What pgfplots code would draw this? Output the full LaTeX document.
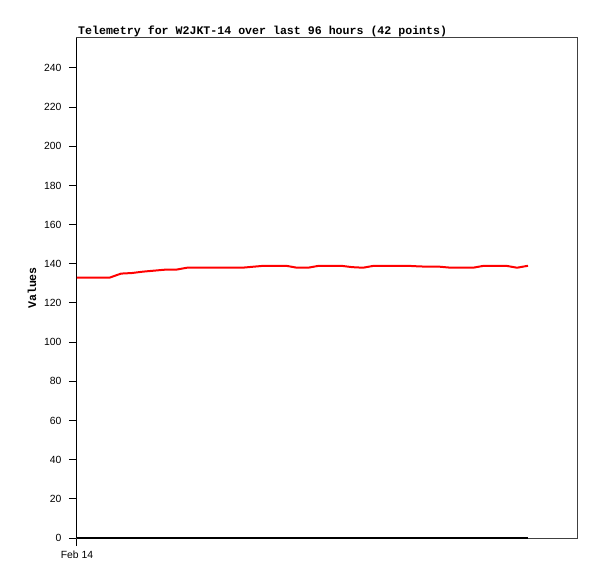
\documentclass[border=0pt]{standalone}
\usepackage{fontspec}
\setmainfont{Liberation Sans}
\newfontfamily\monofont{Liberation Mono}
\usepackage{pgfplots}
\pgfplotsset{compat=1.18}
\definecolor{boxgray}{HTML}{404040}
\begin{document}
\begin{tikzpicture}
\begin{axis}[
  scale only axis,
  width=500bp, height=500bp,
  xmin=0, xmax=45.4545,
  ymin=0, ymax=255.3,
  ytick={0,20,...,240},
  xtick={0},
  xticklabels={Feb 14},
  tick align=outside,
  tick pos=left,
  major tick length=8bp,
  tick style={black, line width=1bp},
  axis line style={boxgray, line width=1bp},
  /pgf/number format/assume math mode=true,
  ticklabel style={font=\fontsize{10.4bp}{12bp}\selectfont},
  yticklabel style={xshift=-4bp},
  xticklabel style={yshift=-1bp},
  title={\monofont\bfseries\fontsize{11.6bp}{13bp}\selectfont Telemetry for W2JKT-14 over last 96 hours (42 points)},
  title style={anchor=south west, at={(rel axis cs:0,1)}, inner sep=1bp, yshift=-6bp},
  ylabel={\monofont\bfseries\fontsize{11.6bp}{13bp}\selectfont Values},
  ylabel style={at={(axis description cs:-0.09,0.5)}, anchor=center},
  clip=false,
]
\draw[black, line width=1bp] (rel axis cs:0,0) -- (rel axis cs:0,1);
\addplot[red, line width=2bp] coordinates {
(0,133) (1,133) (2,133) (3,133) (4,135) (5,135.3) (6,136) (7,136.5)
(8,137) (9,137) (10,138) (11,138) (12,138) (13,138) (14,138) (15,138)
(16,138.5) (17,139) (18,139) (19,139) (20,138) (21,138) (22,139) (23,139)
(24,139) (25,138.3) (26,138) (27,139) (28,139) (29,139) (30,139) (31,138.7)
(32,138.5) (33,138.5) (34,138) (35,138) (36,138) (37,139) (38,139) (39,139)
(40,138) (41,139)
};
\addplot[black, line width=2bp] coordinates {
(0,0) (1,0) (2,0) (3,0) (4,0) (5,0) (6,0) (7,0) (8,0) (9,0) (10,0)
(11,0) (12,0) (13,0) (14,0) (15,0) (16,0) (17,0) (18,0) (19,0) (20,0)
(21,0) (22,0) (23,0) (24,0) (25,0) (26,0) (27,0) (28,0) (29,0) (30,0)
(31,0) (32,0) (33,0) (34,0) (35,0) (36,0) (37,0) (38,0) (39,0) (40,0) (41,0)
};
\end{axis}
\pgfresetboundingbox
\path (-77bp,-41bp) rectangle (520bp,538bp);
\end{tikzpicture}
\end{document}
